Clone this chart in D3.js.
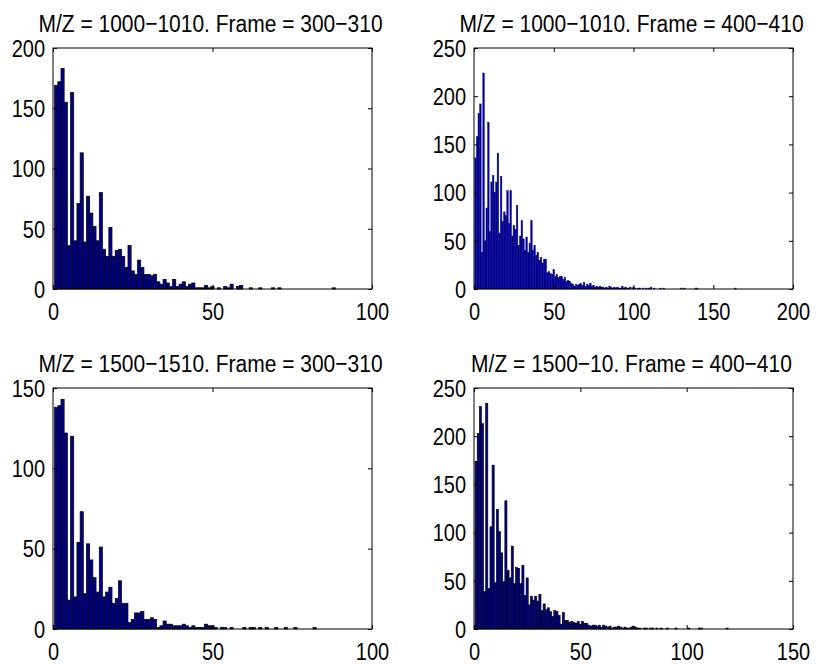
<!DOCTYPE html>
<html>
<head>
<meta charset="utf-8">
<script src="https://cdn.jsdelivr.net/npm/d3@7"></script>
<style>
  body { margin: 0; background: #fff; }
  svg text { font-family: "Liberation Sans", Arial, Helvetica, sans-serif; fill: #000; }
</style>
</head>
<body>
<div id="fig"></div>
<script>
// histogram counts, bin k (k = 1, 2, ...) is centred on k
const counts_1000_300 = [169,172,183,155,36,163,40,71,113,39, 77,63,52,40,80,33,27,51,27,32,
  33,27,18,36,15,12,24,18,12,12, 11,12,6,4,8,5,2,8,2,4, 6,2,4,5,1,1,1,3,1,2,
  0,1,0,2,1,4,0,2,3,0, 0,1,0,0,1,0,0,0,1,0, 1,0,0,0,0,0,0,0,0,0, 0,0,0,0,0,0,0,1];

const counts_1000_400 = [136,158,182,192,38,224,50,84,173,60, 111,118,100,111,141,58,117,70,80,76,
  102,68,102,55,66,62,87,45,55,71, 52,40,54,38,47,71,40,45,35,38, 30,33,27,31,31,17,18,16,15,20,
  13,15,12,13,13,10,12,8,9,8, 6,5,3,5,4,5,6,4,7,3, 5,4,6,3,4,2,3,2,3,2,
  2,1,2,1,3,2,1,2,1,2, 1,1,3,1,2,1,1,2,0,2, 1,0,1,1,0,1,0,1,0,1,
  2,0,1,0,0,0,1,0,1,0, 0,0,0,0,0,0,0,0,0,1, 0,1,0,0,0,0,0,0,1,1,
  0,0,0,0,0,0,0,0,0,0, 0,0,0,0,0,0,0,0,0,0, 0,0,0,1];

const counts_1500_300 = [138,139,143,122,18,120,20,54,73,22, 53,43,32,23,51,20,23,26,16,19,
  30,16,16,4,6,10,10,11,6,6, 7,6,1,2,5,3,3,2,2,2, 3,2,1,2,1,1,1,3,2,2,
  1,0,1,1,0,1,0,0,0,1, 0,1,1,0,1,0,1,0,0,1, 0,0,1,0,0,1,0,0,0,0, 0,1];

const counts_1500_400 = [174,203,231,213,39,234,42,106,170,48, 124,101,79,49,133,61,53,86,47,64,
  63,47,66,35,53,25,34,30,34,29, 36,19,26,20,22,18,13,19,18,14, 5,17,9,9,7,8,7,6,8,5,
  8,6,6,4,3,4,4,3,4,2, 4,3,2,3,1,2,2,3,2,1, 2,1,1,2,3,2,1,1,0,1,
  1,0,1,1,0,1,0,1,0,0, 1,0,0,0,1,0,0,0,0,0, 1,0,0,0,0,1,1,0,0,0,
  0,0,0,0,0,0,0,0,1];

const titles = [
  "M/Z = 1000\u22121010. Frame = 300\u2212310",
  "M/Z = 1000\u22121010. Frame = 400\u2212410",
  "M/Z = 1500\u22121510. Frame = 300\u2212310",
  "M/Z = 1500\u221210. Frame = 400\u2212410"
];

const xTicks100 = [0, 50, 100];
const xTicks150 = [0, 50, 100, 150];
const xTicks200 = [0, 50, 100, 150, 200];
const yTicks150 = [0, 50, 100, 150];
const yTicks200 = [0, 50, 100, 150, 200];
const yTicks250 = [0, 50, 100, 150, 200, 250];

const panels = [
  { title: titles[0], counts: counts_1000_300, xTicks: xTicks100, yTicks: yTicks200, edge: "#000", edgeW: 0.7 },
  { title: titles[1], counts: counts_1000_400, xTicks: xTicks200, yTicks: yTicks250, edge: "#00008f", edgeW: 0.4 },
  { title: titles[2], counts: counts_1500_300, xTicks: xTicks100, yTicks: yTicks150, edge: "#000", edgeW: 0.7 },
  { title: titles[3], counts: counts_1500_400, xTicks: xTicks150, yTicks: yTicks250, edge: "#000", edgeW: 0.6 }
];

const W = 817, H = 666;
const boxes = [
  { x: 53, y: 48, w: 319, h: 241 },
  { x: 474, y: 48, w: 319, h: 241 },
  { x: 53, y: 388, w: 319, h: 241 },
  { x: 474, y: 388, w: 319, h: 241 }
];
const barColor = "#00008f";
const tickLen = 4;
const stretch = 1.15; // text in the figure is a bit taller than normal

const svg = d3.select("#fig").append("svg")
  .attr("width", W)
  .attr("height", H);

function drawPanel(p, box) {
  const g = svg.append("g").attr("transform", `translate(${box.x},${box.y})`);

  const x = d3.scaleLinear()
    .domain([0, d3.max(p.xTicks)])
    .range([0, box.w]);
  const y = d3.scaleLinear()
    .domain([0, d3.max(p.yTicks)])
    .range([box.h, 0]);

  const bins = p.counts
    .map((c, i) => ({ bin: i + 1, c: c }))
    .filter((d) => d.c > 0);

  g.selectAll("rect.bar")
    .data(bins)
    .enter()
    .append("rect")
    .attr("class", "bar")
    .attr("x", (d) => x(d.bin - 0.5))
    .attr("width", (d) => x(d.bin + 0.5) - x(d.bin - 0.5))
    .attr("y", (d) => y(d.c))
    .attr("height", (d) => y(0) - y(d.c))
    .attr("fill", barColor)
    .attr("stroke", p.edge)
    .attr("stroke-width", p.edgeW);

  // ticks point inward on all four sides, labels only bottom and left
  const bottom = g.append("g")
    .attr("transform", `translate(0,${box.h})`)
    .call(d3.axisBottom(x).tickValues(p.xTicks).tickSizeInner(-tickLen).tickSizeOuter(0));
  const left = g.append("g")
    .call(d3.axisLeft(y).tickValues(p.yTicks).tickSizeInner(-tickLen).tickSizeOuter(0));
  const top = g.append("g")
    .call(d3.axisTop(x).tickValues(p.xTicks).tickSizeInner(-tickLen).tickSizeOuter(0).tickFormat(""));
  const right = g.append("g")
    .attr("transform", `translate(${box.w},0)`)
    .call(d3.axisRight(y).tickValues(p.yTicks).tickSizeInner(-tickLen).tickSizeOuter(0).tickFormat(""));

  [bottom, left, top, right].forEach((a) => {
    a.select(".domain").remove();
    a.selectAll("line").attr("stroke", "#000");
  });

  bottom.selectAll("text")
    .attr("x", 0).attr("y", 0).attr("dy", "0.36em")
    .attr("font-size", 20).attr("fill", "#000")
    .attr("transform", `translate(0,23) scale(1,${stretch})`);
  left.selectAll("text")
    .attr("x", 0).attr("y", 0).attr("dy", "0.36em")
    .attr("font-size", 20).attr("fill", "#000")
    .attr("transform", `translate(-8,0) scale(1,${stretch})`);

  g.append("rect")
    .attr("width", box.w)
    .attr("height", box.h)
    .attr("fill", "none")
    .attr("stroke", "#000")
    .attr("stroke-width", 1);

  g.append("text")
    .attr("text-anchor", "middle")
    .attr("dy", "0.36em")
    .attr("font-size", 21)
    .attr("transform", `translate(${box.w / 2 - 2},-25) scale(1,${stretch})`)
    .text(p.title);
}

panels.forEach((p, i) => drawPanel(p, boxes[i]));
</script>
</body>
</html>
